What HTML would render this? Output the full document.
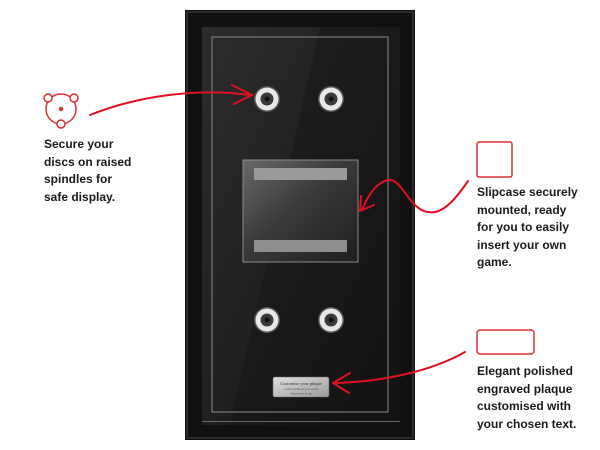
<!DOCTYPE html>
<html><head><meta charset="utf-8"><style>
html,body{margin:0;padding:0;background:#fff;}
body{width:600px;height:450px;position:relative;overflow:hidden;font-family:"Liberation Sans",sans-serif;}
.t{position:absolute;font-size:12px;line-height:17.5px;color:#1a1a1a;font-weight:bold;}
</style></head><body>
<svg width="600" height="450" style="position:absolute;left:0;top:0">
<defs>
<linearGradient id="mat" x1="0" y1="0" x2="1" y2="1">
<stop offset="0" stop-color="#2c2c2c"/><stop offset="0.5" stop-color="#202020"/><stop offset="1" stop-color="#111"/></linearGradient>
<linearGradient id="glass" x1="0" y1="0" x2="1" y2="1">
<stop offset="0" stop-color="#6a6a6a"/><stop offset="0.45" stop-color="#3a3a3a"/><stop offset="1" stop-color="#1e1e1e"/></linearGradient>
<linearGradient id="pl" x1="0" y1="0" x2="1" y2="1">
<stop offset="0" stop-color="#e0e0e0"/><stop offset="1" stop-color="#9a9a9a"/></linearGradient>
<g id="sp">
<circle cx="0" cy="0" r="13" fill="#555"/>
<circle cx="0" cy="0" r="11.5" fill="#e8e8e8"/>
<circle cx="0" cy="0" r="6.5" fill="#3a3a3a"/>
<circle cx="0" cy="0" r="2.5" fill="#111"/>
</g>
</defs>
<rect x="185" y="10" width="230" height="430" fill="#111"/>
<rect x="187" y="12" width="226" height="426" fill="none" stroke="#2c2c2c" stroke-width="2"/>
<rect x="202" y="27" width="198" height="398" fill="url(#mat)"/>
<polygon points="320,27 400,27 400,425 230,425" fill="#141414" opacity="0.5"/>
<rect x="212" y="37" width="176" height="375" fill="none" stroke="#8a8a8a" stroke-width="1"/>
<rect x="202" y="421" width="198" height="1" fill="#5a6a70"/>
<rect x="243" y="160" width="115" height="102" fill="url(#glass)" stroke="#8a8a8a" stroke-width="1"/>
<rect x="254" y="168" width="93" height="12" fill="#9a9a9a"/>
<rect x="254" y="240" width="93" height="12" fill="#8e8e8e"/>
<use href="#sp" x="267" y="99"/>
<use href="#sp" x="331" y="99"/>
<use href="#sp" x="267" y="320"/>
<use href="#sp" x="331" y="320"/>
<rect x="273" y="377" width="56" height="20" rx="2" fill="url(#pl)" stroke="#666" stroke-width="0.6"/>
<text x="301" y="385" font-size="4.5" text-anchor="middle" fill="#333" font-family="Liberation Serif">Customise your plaque</text>
<text x="301" y="390" font-size="3.5" text-anchor="middle" fill="#555" font-family="Liberation Serif">with anything you want</text>
<text x="301" y="394.5" font-size="3.5" text-anchor="middle" fill="#555" font-family="Liberation Serif">Wherever from</text>
<g fill="none" stroke="#e01020" stroke-width="2" stroke-linecap="round">
<path d="M90,115 C140,95 200,88 250,95"/>
<path d="M232,85 L252,95 L234,104"/>
<path d="M468,181 C455,200 442,215 428,212 C410,210 402,180 390,180 C378,180 368,195 362,210"/>
<path d="M361,196 L360,211 L374,205"/>
<path d="M465,352 C430,372 380,382 334,383"/>
<path d="M350,373 L333,383 L349,393"/>
</g>
<g fill="none" stroke="#d93030" stroke-width="1.5">
<circle cx="61" cy="109" r="15"/>
<circle cx="48" cy="98" r="4" fill="#fff"/>
<circle cx="74" cy="98" r="4" fill="#fff"/>
<circle cx="61" cy="124" r="4" fill="#fff"/>
<rect x="477" y="142" width="35" height="35" rx="2"/>
<rect x="477" y="330" width="57" height="24" rx="3"/>
</g>
<circle cx="61" cy="109" r="2.2" fill="#d93030"/>
</svg>
<div class="t" style="left:44px;top:136px">Secure your<br>discs on raised<br>spindles for<br>safe display.</div>
<div class="t" style="left:477px;top:184px">Slipcase securely<br>mounted, ready<br>for you to easily<br>insert your own<br>game.</div>
<div class="t" style="left:477px;top:363px">Elegant polished<br>engraved plaque<br>customised with<br>your chosen text.</div>
</body></html>
